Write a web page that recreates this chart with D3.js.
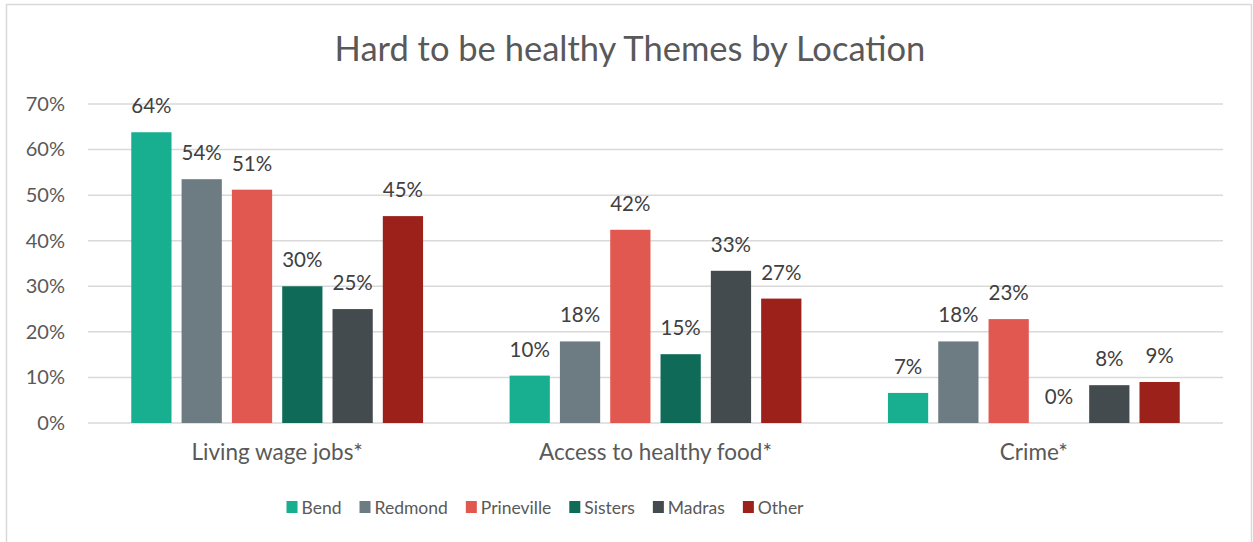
<!DOCTYPE html>
<html>
<head>
<meta charset="utf-8">
<script src="https://cdn.jsdelivr.net/npm/d3@7"></script>
<style>
    body { margin: 0; background: #fff; }
    text { font-family: Lato, "Open Sans", sans-serif; }
</style>
</head>
<body>
<div id="chart"></div>
<script>
const categories = ["Living wage jobs*", "Access to healthy food*", "Crime*"];
const locations = ["Bend", "Redmond", "Prineville", "Sisters", "Madras", "Other"];
const colors = ["#17AF8F", "#6D7C83", "#E0584F", "#0F6B58", "#434B4E", "#9C211A"];
// one array per location, values in the order of categories
const bend = [0.638, 0.104, 0.066];
const redmond = [0.535, 0.179, 0.179];
const prineville = [0.512, 0.424, 0.228];
const sisters = [0.300, 0.151, 0.0];
const madras = [0.250, 0.334, 0.083];
const other = [0.454, 0.273, 0.090];
const yTicks = [0, 0.1, 0.2, 0.3, 0.4, 0.5, 0.6, 0.7];

const seriesValues = [bend, redmond, prineville, sisters, madras, other];

const config = {
    width: 1253,
    height: 542,
    plotLeft: 88,
    plotRight: 1223,
    plotTop: 104,
    plotBottom: 423,
    gridColor: '#d9d9d9',
    textColor: '#595959',
    labelColor: '#404040',
};

const svg = d3.select('#chart')
    .append('svg')
    .attr('width', config.width)
    .attr('height', config.height)
;

// chart frame (bottom edge falls outside the picture)
svg.append('rect')
    .attr('x', 6.5)
    .attr('y', 4.5)
    .attr('width', 1245)
    .attr('height', 600)
    .attr('fill', '#fff')
    .attr('stroke', config.gridColor)
    .attr('stroke-width', 1.5)
;

svg.append('text')
    .attr('x', 630)
    .attr('y', 61)
    .attr('text-anchor', 'middle')
    .attr('fill', config.textColor)
    .style('font-size', '34.5px')
    .text('Hard to be healthy Themes by Location')
;

let yScale = d3.scaleLinear()
    .domain([0, 0.7])
    .range([config.plotBottom, config.plotTop])
;

let x0 = d3.scaleBand()
    .domain(categories)
    .range([config.plotLeft, config.plotRight])
;

let x1 = d3.scaleBand()
    .domain(locations)
    .range([0, x0.bandwidth()])
    .paddingInner(0.2)
    .paddingOuter(0.86)
;

// gridlines
svg.append('g')
    .selectAll('line')
    .data(yTicks)
    .enter()
    .append('line')
    .attr('x1', config.plotLeft)
    .attr('x2', config.plotRight)
    .attr('y1', d => yScale(d))
    .attr('y2', d => yScale(d))
    .attr('stroke', config.gridColor)
    .attr('stroke-width', 1.5)
;

// y axis, labels only
let yAxis = d3.axisLeft(yScale)
    .tickValues(yTicks)
    .tickFormat(d3.format('.0%'))
    .tickSize(0)
    .tickPadding(0)
;
let yAxisG = svg.append('g')
    .attr('transform', `translate(65,0)`)
    .call(yAxis)
;
yAxisG.select('.domain').remove();
yAxisG.selectAll('text')
    .attr('fill', config.textColor)
    .style('font-family', 'Lato, sans-serif')
    .style('font-size', '20px')
;

// x axis, labels only
let xAxis = d3.axisBottom(x0).tickSize(0).tickPadding(0);
let xAxisG = svg.append('g')
    .attr('transform', `translate(0,${config.plotBottom + 21})`)
    .call(xAxis)
;
xAxisG.select('.domain').remove();
xAxisG.selectAll('text')
    .attr('fill', config.textColor)
    .style('font-family', 'Lato, sans-serif')
    .style('font-size', '22.5px')
;

// bars
let rows = [];
categories.forEach((c, ci) => {
    locations.forEach((loc, li) => {
        rows.push({ category: c, location: loc, value: seriesValues[li][ci], color: colors[li] });
    });
});

let fmt = d3.format('.0%');

svg.append('g')
    .selectAll('rect')
    .data(rows)
    .enter()
    .append('rect')
    .attr('x', d => x0(d.category) + x1(d.location))
    .attr('y', d => yScale(d.value))
    .attr('width', x1.bandwidth())
    .attr('height', d => yScale(0) - yScale(d.value))
    .attr('fill', d => d.color)
;

svg.append('g')
    .selectAll('text')
    .data(rows)
    .enter()
    .append('text')
    .attr('x', d => x0(d.category) + x1(d.location) + x1.bandwidth() / 2)
    .attr('y', d => yScale(d.value) - 19)
    .attr('text-anchor', 'middle')
    .attr('fill', config.labelColor)
    .style('font-size', '20.5px')
    .text(d => fmt(d.value))
;

// legend, laid out from the measured text widths
let legend = svg.append('g');
let items = legend.selectAll('g')
    .data(locations)
    .enter()
    .append('g')
;
items.append('rect')
    .attr('width', 11)
    .attr('height', 12)
    .attr('y', -6)
    .attr('fill', (d, i) => colors[i])
;
items.append('text')
    .attr('x', 15)
    .attr('y', 7)
    .attr('fill', config.textColor)
    .style('font-size', '17.5px')
    .text(d => d)
;
let offset = 0;
items.each(function () {
    let w = this.querySelector('text').getComputedTextLength();
    d3.select(this).attr('transform', `translate(${offset},0)`);
    offset += 15 + w + 18;
});
let legendWidth = offset - 18;
legend.attr('transform', `translate(${545 - legendWidth / 2},507)`);
</script>
</body>
</html>
